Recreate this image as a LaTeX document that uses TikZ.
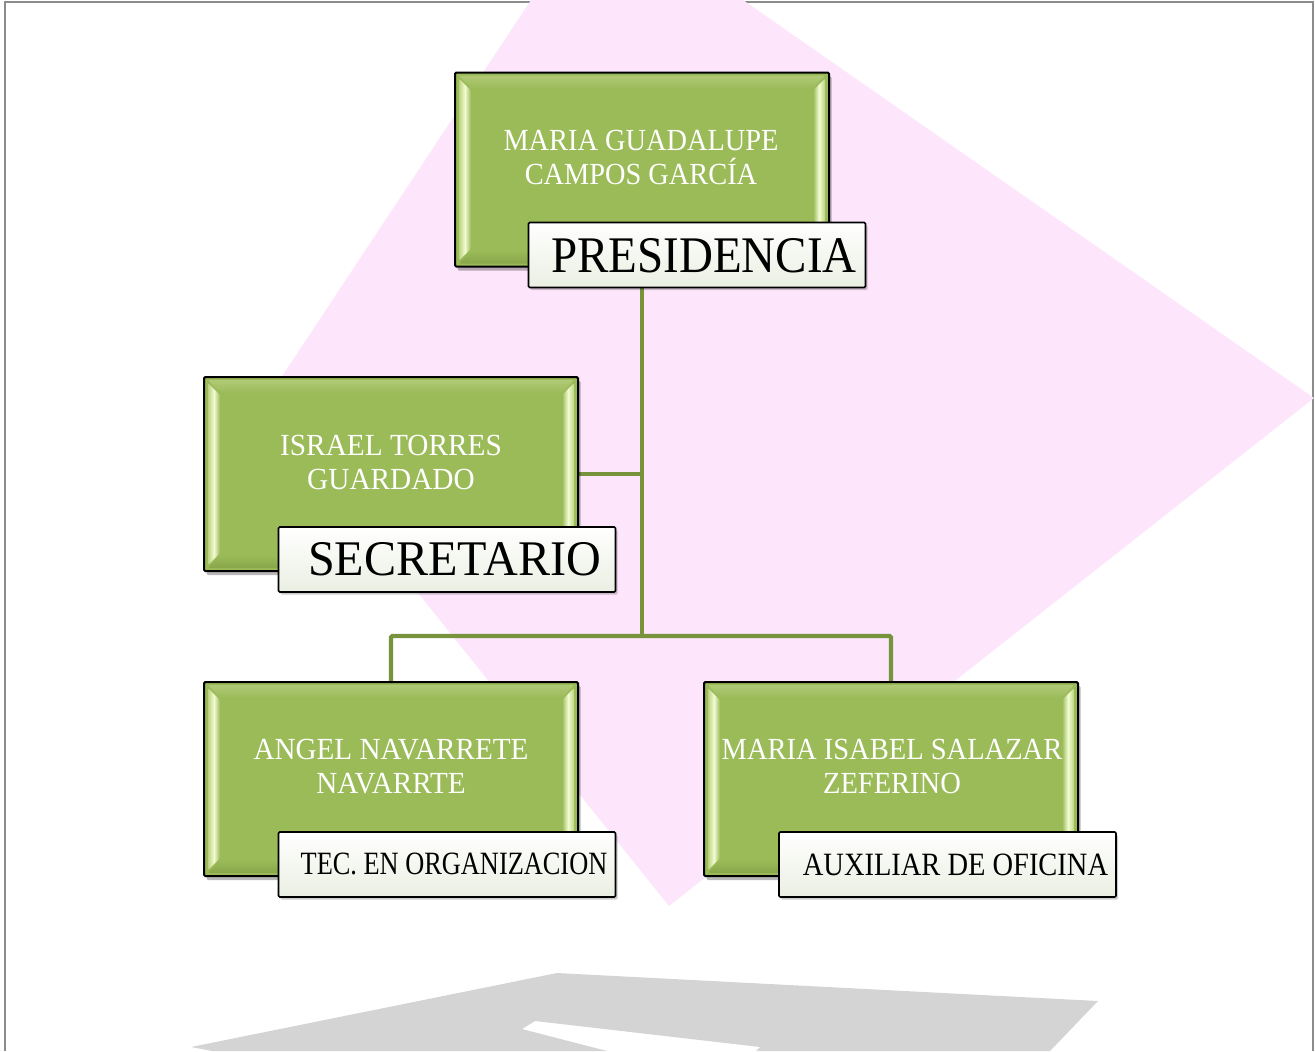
\documentclass[tikz,border=0pt]{standalone}
\usepackage{fontspec}
\setmainfont{Liberation Serif}
\usetikzlibrary{calc,shadows,backgrounds}
\definecolor{gfill}{RGB}{155,187,89}
\definecolor{hilite}{RGB}{242,251,210}
\definecolor{hiside}{RGB}{188,212,128}
\definecolor{topband}{RGB}{176,202,118}
\definecolor{botband}{RGB}{136,166,74}
\definecolor{pinkbg}{RGB}{253,229,252}
\definecolor{graybg}{RGB}{212,212,212}
\definecolor{framec}{RGB}{140,140,140}
\definecolor{connc}{RGB}{119,147,60}
\definecolor{lblbot}{RGB}{234,239,226}
\tikzset{
  greenbox/.style={draw=black, line width=1.5pt, fill=gfill, rounded corners=1pt,
    minimum width=280.5pt, minimum height=145.5pt, inner sep=0pt,
    drop shadow={shadow xshift=2pt, shadow yshift=-3pt, opacity=0.28, fill=black},
    path picture={
      \coordinate (NW) at (path picture bounding box.north west);
      \coordinate (SE) at (path picture bounding box.south east);
      \coordinate (NE) at (NW -| SE);
      \coordinate (SW) at (NW |- SE);
      \shade[top color=topband, bottom color=gfill]
        ($(NW)+(4,3)$) -- ($(NE)+(-4,3)$) -- ($(NE)+(-16,16)$) -- ($(NW)+(16,16)$) -- cycle;
      \shade[top color=gfill, bottom color=botband]
        ($(SW)+(16,-16)$) -- ($(SE)+(-16,-16)$) -- ($(SE)+(-4,-3)$) -- ($(SW)+(4,-3)$) -- cycle;
      \shade[left color=hiside, right color=gfill, middle color=hilite]
        ($(NW)+(4,6)$) -- ($(NW)+(16,18)$) -- ($(SW)+(16,-18)$) -- ($(SW)+(4,-6)$) -- cycle;
      \shade[left color=gfill, right color=hiside, middle color=hilite]
        ($(NE)+(-4,6)$) -- ($(NE)+(-16,18)$) -- ($(SE)+(-16,-18)$) -- ($(SE)+(-4,-6)$) -- cycle;
    }},
  labelbox/.style={draw=black, line width=1.2pt, top color=white, bottom color=lblbot,
    rounded corners=1pt, minimum width=252.75pt, minimum height=48.75pt, inner sep=0pt,
    drop shadow={shadow xshift=1.5pt, shadow yshift=-2pt, opacity=0.2, fill=black}},
  nametext/.style={text=white, anchor=base, inner sep=0pt, font=\fontsize{23}{25}\selectfont},
  lbltext/.style={text=black, anchor=base, inner sep=0pt},
  conn/.style={draw=connc, line width=3.2pt, rounded corners=1pt},
  framestyle/.style={draw=framec, line width=1.5pt},
}
\begin{document}
\begin{tikzpicture}[x=0.75pt,y=-0.75pt]
\useasboundingbox (0,0) rectangle (1315,1051);

% background decorations
\begin{scope}[on background layer]
  \draw[framestyle] (5,1051) -- (5,2) -- (1313,2) -- (1313,1051);
  \fill[pinkbg] (531,0) -- (743,0) -- (1314,398) -- (669,906) -- (265,402) -- cycle;
  \fill[graybg] (557,973) -- (1098,1001) -- (1050,1051) -- (756,1051) -- (760,1047)
    -- (535,1021) -- (522,1029) -- (607,1051) -- (212,1051) -- (191,1047) -- cycle;
\end{scope}

% green boxes
\node[greenbox] (top)   at (642,169.5) {};
\node[greenbox] (isr)   at (391,474) {};
\node[greenbox] (angel) at (391,779) {};
\node[greenbox] (maria) at (891,779) {};

% names
\node[nametext] (t1a) at (641,150) {\scalebox{0.925}[1]{MARIA GUADALUPE}};
\node[nametext] (t1b) at (641,184) {\scalebox{0.925}[1]{CAMPOS GARCÍA}};
\node[nametext] (t2a) at (391,455) {\scalebox{0.955}[1]{ISRAEL TORRES}};
\node[nametext] (t2b) at (391,489) {\scalebox{0.955}[1]{GUARDADO}};
\node[nametext] (t3a) at (391,759) {\scalebox{0.95}[1]{ANGEL NAVARRETE}};
\node[nametext] (t3b) at (391,793) {\scalebox{0.95}[1]{NAVARRTE}};
\node[nametext] (t4a) at (892,759) {\scalebox{0.93}[1]{MARIA ISABEL SALAZAR}};
\node[nametext] (t4b) at (892,793) {\scalebox{0.93}[1]{ZEFERINO}};

% role labels
\node[labelbox] (pres) at (697,255) {};
\node[labelbox] (sec)  at (447,559.5) {};
\node[labelbox] (tec)  at (447,864.5) {};
\node[labelbox] (aux)  at (947.5,864.5) {};

\node[lbltext, font=\fontsize{38.5}{40}\selectfont] (l1) at (704,272) {\scalebox{0.915}[1]{PRESIDENCIA}};
\node[lbltext, font=\fontsize{37.4}{40}\selectfont] (l2) at (454.5,575) {\scalebox{0.965}[1]{SECRETARIO}};
\node[lbltext, font=\fontsize{24.4}{26}\selectfont] (l3) at (454,874) {\scalebox{0.81}[1]{TEC. EN ORGANIZACION}};
\node[lbltext, font=\fontsize{24.4}{26}\selectfont] (l4) at (955.5,875) {\scalebox{0.875}[1]{AUXILIAR DE OFICINA}};

% connectors
\coordinate (bus) at (top.south |- 0,636);
\begin{scope}[on background layer]
  \draw[conn] (top.south) -- (bus);
  \draw[conn] (bus) -| (angel.north);
  \draw[conn] (bus) -| (maria.north);
  \draw[conn] (isr.east) -- (isr.east -| top.south);
\end{scope}
\end{tikzpicture}
\end{document}
